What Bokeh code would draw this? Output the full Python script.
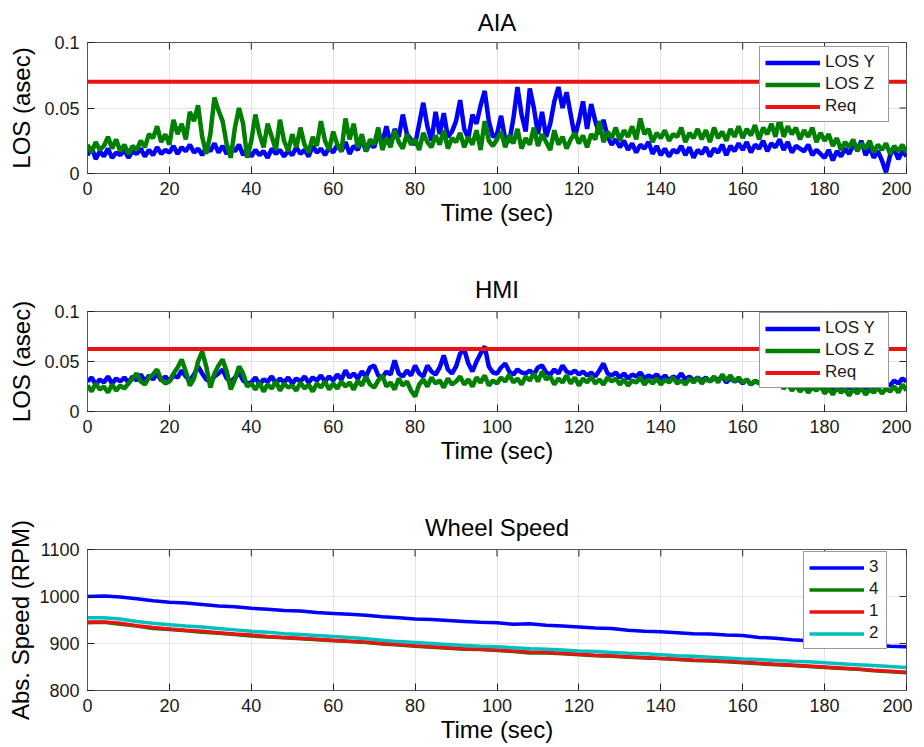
from bokeh.plotting import figure
from bokeh.models import (ColumnDataSource, Range1d, LinearAxis, FixedTicker, Legend, LegendItem,
                          CustomJSTickFormatter, Title)
from bokeh.layouts import column
from bokeh.embed import file_html
from bokeh.resources import INLINE

# ---------------- data ----------------
time_s = list(range(0, 201))          # 1 s sampling, 0..200 s

# AIA line-of-sight jitter (thousandths of an arcsec)
aia_los_y = [14, 20, 11, 17, 13, 19, 12, 16, 14, 18,
             12, 17, 15, 19, 13, 18, 14, 20, 15, 18,
             16, 21, 15, 20, 17, 22, 16, 19, 14, 20,
             17, 23, 16, 21, 15, 20, 17, 22, 14, 19,
             13, 18, 14, 17, 12, 19, 15, 18, 13, 17,
             14, 20, 15, 18, 13, 21, 16, 19, 14, 20,
             16, 22, 17, 24, 15, 21, 18, 26, 17, 23,
             20, 30, 24, 36, 22, 34, 28, 45, 30, 26,
             22, 38, 54, 36, 25, 47, 30, 46, 28, 32,
             40, 56, 34, 27, 45, 38, 52, 63, 40, 28,
             30, 44, 26, 24, 42, 66, 45, 32, 65, 50,
             30, 47, 28, 38, 55, 66, 50, 62, 45, 28,
             40, 55, 34, 53, 40, 30, 41, 28, 22, 26,
             20, 25, 18, 23, 16, 22, 19, 24, 15, 21,
             14, 19, 13, 18, 16, 21, 14, 20, 12, 18,
             15, 20, 13, 19, 16, 22, 14, 21, 17, 23,
             18, 24, 16, 22, 19, 25, 17, 23, 20, 26,
             18, 24, 16, 21, 19, 17, 22, 14, 18, 15,
             12, 18, 10, 17, 13, 19, 15, 22, 18, 25,
             14, 20, 12, 17, 10, 1, 14, 19, 11, 17,
             13]
aia_los_z = [22, 16, 24, 18, 21, 28, 19, 26, 17, 22,
             15, 21, 18, 25, 20, 30, 27, 36, 24, 30,
             22, 41, 30, 38, 26, 47, 40, 52, 28, 15,
             30, 58, 48, 40, 22, 12, 35, 50, 38, 12,
             25, 45, 30, 20, 38, 28, 18, 41, 25, 17,
             30, 20, 35, 22, 16, 28, 21, 40, 25, 18,
             32, 22, 17, 42, 26, 38, 20, 30, 17, 26,
             22, 35, 18, 27, 20, 33, 24, 19, 30, 22,
             26, 18, 31, 24, 20, 29, 22, 33, 19, 27,
             24, 31, 20, 28, 22, 33, 18, 40, 25, 21,
             26, 32, 20, 29, 23, 34, 19, 27, 22, 35,
             21, 30, 24, 18, 33, 22, 28, 19, 26, 31,
             23, 29, 20, 30, 26, 40, 24, 32, 27, 35,
             25, 33, 28, 36, 26, 42, 30, 34, 24, 31,
             27, 33, 25, 30, 28, 35, 24, 31, 27, 34,
             26, 33, 24, 35, 27, 32, 25, 34, 28, 36,
             27, 34, 29, 37, 26, 35, 30, 38, 28, 42,
             28, 36, 30, 35, 26, 33, 28, 35, 24, 31,
             25, 30, 21, 27, 18, 24, 20, 26, 17, 23,
             19, 25, 16, 22, 18, 23, 15, 21, 17, 22,
             16]
aia_req = [70, 70]

# HMI line-of-sight jitter (thousandths of an arcsec)
hmi_los_y = [30, 34, 27, 32, 29, 35, 28, 33, 30, 34,
             29, 35, 31, 37, 30, 36, 32, 38, 31, 35,
             30, 36, 34, 41, 35, 31, 37, 45, 38, 32,
             30, 35, 38, 42, 33, 30, 34, 39, 31, 28,
             29, 34, 27, 32, 30, 35, 28, 33, 29, 34,
             28, 33, 30, 35, 29, 34, 31, 36, 30, 35,
             31, 37, 32, 41, 34, 38, 33, 40, 35, 44,
             46, 36, 34, 40, 37, 51, 38, 35, 41, 36,
             46, 38, 35, 46, 40, 37, 44, 56, 42, 38,
             45, 58, 62, 48, 40, 50, 58, 65, 45, 39,
             38, 44, 48, 40, 37, 42, 39, 38, 41, 37,
             44, 46, 39, 37, 42, 38, 46, 40, 38, 41,
             37, 40, 36, 39, 35, 41, 48, 38, 36, 39,
             34, 38, 33, 37, 35, 39, 33, 36, 34, 37,
             32, 36, 31, 35, 33, 38, 32, 35, 31, 34,
             31, 34, 30, 33, 32, 35, 29, 33, 30, 32,
             28, 32, 27, 30, 29, 31, 26, 30, 28, 31,
             27, 30, 25, 29, 26, 29, 24, 28, 25, 29,
             23, 28, 22, 27, 24, 28, 23, 26, 22, 27,
             23, 28, 24, 29, 25, 28, 26, 31, 28, 33,
             30]
hmi_los_z = [26, 20, 28, 22, 25, 19, 27, 21, 26, 23,
             28, 33, 38, 30, 27, 34, 37, 42, 32, 28,
             30, 38, 44, 52, 40, 26, 33, 50, 60, 45,
             24, 38, 46, 52, 40, 22, 32, 45, 38, 25,
             28, 22, 29, 20, 27, 23, 30, 21, 28, 24,
             26, 21, 29, 23, 27, 20, 28, 24, 30, 22,
             28, 23, 30, 25, 29, 22, 31, 26, 35, 27,
             24, 31, 36, 25, 29, 22, 33, 26, 30, 21,
             15, 27, 32, 25, 34, 28, 31, 24, 33, 27,
             30, 35, 27, 32, 25, 34, 29, 36, 26, 31,
             28, 34, 30, 37, 29, 33, 27, 35, 31, 38,
             30, 40, 32, 35, 27, 33, 29, 36, 28, 34,
             26, 33, 29, 35, 28, 32, 27, 34, 30, 33,
             27, 32, 26, 31, 29, 34, 27, 32, 28, 33,
             27, 32, 29, 34, 28, 31, 27, 33, 29, 34,
             28, 33, 30, 35, 29, 37, 31, 36, 30, 34,
             29, 32, 27, 31, 28, 30, 26, 29, 27, 30,
             23, 28, 21, 26, 20, 25, 19, 24, 21, 26,
             18, 23, 17, 24, 19, 22, 16, 23, 18, 24,
             17, 22, 19, 24, 18, 23, 20, 25, 19, 27,
             21]
hmi_req = [62.5, 62.5]
req_time = [0, 200]

# Wheel speeds (RPM), 4 s sampling
wheel_time = list(range(0, 201, 4))
wheel_3 = [1000, 1001, 999, 995, 991, 988, 986, 983, 980, 978,
           975, 973, 970, 969, 966, 964, 962, 960, 957, 955,
           952, 951, 949, 947, 945, 944, 941, 942, 939, 937,
           935, 933, 932, 928, 926, 925, 923, 921, 920, 918,
           917, 913, 911, 908, 906, 903, 901, 899, 897, 894, 893]
wheel_4 = [944, 945, 941, 937, 932, 930, 927, 924, 922, 919,
           916, 914, 912, 910, 908, 906, 904, 902, 899, 897,
           894, 892, 890, 888, 887, 885, 883, 880, 880, 878,
           876, 874, 873, 871, 869, 868, 866, 864, 863, 861,
           859, 857, 855, 853, 851, 849, 847, 845, 842, 840, 838]
wheel_1 = [946, 946, 943, 938, 934, 931, 928, 926, 923, 920,
           918, 915, 913, 911, 909, 907, 905, 903, 900, 898,
           895, 893, 891, 889, 888, 886, 884, 882, 881, 879,
           877, 875, 874, 872, 870, 868, 867, 865, 864, 862,
           860, 858, 856, 854, 852, 850, 848, 846, 843, 841, 839]
wheel_2 = [955, 955, 952, 947, 943, 940, 937, 935, 932, 929,
           926, 924, 921, 919, 917, 915, 913, 910, 907, 904,
           902, 900, 898, 896, 894, 893, 891, 889, 888, 886,
           884, 883, 881, 879, 878, 876, 874, 873, 871, 869,
           867, 866, 864, 862, 861, 859, 857, 855, 853, 851, 849]

x_ticks = [0, 20, 40, 60, 80, 100, 120, 140, 160, 180, 200]
los_ticks = [0, 0.05, 0.1]
rpm_ticks = [800, 900, 1000, 1100]

# ---------------- style ----------------
FONT = "Liberation Sans"
BLUE = "#0000ff"
GREEN = "#008000"
RED = "#ee1111"
CYAN = "#00bfbf"
AX = "#555555"
FRAME_W = 819
TICK_LEN = 7

fmt = CustomJSTickFormatter(code="return String(Math.round(tick*1000)/1000);")


def make_fig(title, frame_h, top, bottom, ylab, yr, yticks, ylab_standoff, title_standoff):
    p = figure(frame_width=FRAME_W, frame_height=frame_h, output_backend="svg",
               toolbar_location=None,
               x_range=Range1d(0, 200), y_range=Range1d(*yr),
               min_border_left=79, min_border_right=6, min_border_top=top,
               min_border_bottom=bottom, x_axis_location=None, y_axis_location=None)
    p.outline_line_color = AX
    p.outline_line_width = 1
    p.background_fill_color = "white"
    p.border_fill_color = "white"
    for loc, dim in (("below", 0), ("left", 1)):
        ax = LinearAxis(ticker=FixedTicker(ticks=x_ticks if dim == 0 else yticks),
                        formatter=fmt)
        ax.axis_line_color = AX
        ax.major_tick_line_color = "#222222"
        ax.major_tick_in = TICK_LEN
        ax.major_tick_out = 0
        ax.minor_tick_line_color = None
        ax.major_label_text_font = FONT
        ax.major_label_text_font_size = "18px"
        ax.major_label_text_color = "#1a1a1a"
        ax.axis_label_text_font = FONT
        ax.axis_label_text_font_style = "normal"
        ax.axis_label_text_font_size = "24px"
        ax.axis_label_text_color = "black"
        if loc == "below":
            ax.axis_label = "Time (sec)"
            ax.major_label_standoff = 8
            ax.axis_label_standoff = 1
        else:
            ax.axis_label = ylab
            ax.major_label_standoff = 8
            ax.axis_label_standoff = ylab_standoff
        p.add_layout(ax, loc)
    # mirrored inward ticks on the top and right edges of the box
    y0, y1 = yr
    dy = TICK_LEN * (y1 - y0) / frame_h
    dx = TICK_LEN * 200 / FRAME_W
    p.segment(x0=x_ticks, x1=x_ticks, y0=[y1] * len(x_ticks), y1=[y1 - dy] * len(x_ticks),
              line_color="#222222", line_width=1)
    p.segment(x0=[200] * len(yticks), x1=[200 - dx] * len(yticks), y0=yticks, y1=yticks,
              line_color="#222222", line_width=1)
    p.xgrid.ticker = FixedTicker(ticks=x_ticks)
    p.ygrid.ticker = FixedTicker(ticks=yticks)
    p.grid.grid_line_color = "#e3e3e3"
    p.grid.grid_line_width = 1
    t = Title(text=title, align="center", text_font=FONT, text_font_size="24px",
              text_font_style="normal", text_color="black", standoff=title_standoff)
    p.add_layout(t, "above")
    return p


def add_legend(p, items, loc, label_width):
    lg = Legend(items=items, location=loc)
    lg.label_text_font = FONT
    lg.label_text_font_size = "17px"
    lg.label_text_color = "#1a1a1a"
    lg.glyph_width = 55
    lg.glyph_height = 19
    lg.label_height = 19
    lg.label_width = label_width
    lg.spacing = 2
    lg.padding = 5
    lg.margin = 0
    lg.label_standoff = 5
    lg.border_line_color = "#333333"
    lg.border_line_width = 1
    lg.background_fill_color = "white"
    lg.background_fill_alpha = 1.0
    p.add_layout(lg)


def los_panel(title, frame_h, top, bottom, ys, zs, req, legend_loc, title_standoff):
    src = ColumnDataSource(dict(t=time_s, y=[v / 1000 for v in ys], z=[v / 1000 for v in zs]))
    rsrc = ColumnDataSource(dict(t=req_time, r=[v / 1000 for v in req]))
    p = make_fig(title, frame_h, top, bottom, "LOS (asec)", (0, 0.1), los_ticks, 6,
                 title_standoff)
    ry = p.line("t", "y", source=src, color=BLUE, line_width=4.5)
    rz = p.line("t", "z", source=src, color=GREEN, line_width=4.5)
    rr = p.line("t", "r", source=rsrc, color=RED, line_width=4)
    add_legend(p, [LegendItem(label="LOS Y", renderers=[ry]),
                   LegendItem(label="LOS Z", renderers=[rz]),
                   LegendItem(label="Req", renderers=[rr])], legend_loc, 58)
    return p


p1 = los_panel("AIA", 131, 40, 66, aia_los_y, aia_los_z, aia_req, (672, 51), 13)
p2 = los_panel("HMI", 100, 72, 78, hmi_los_y, hmi_los_z, hmi_req, (672, 23), 18)

wsrc = ColumnDataSource(dict(t=wheel_time, w3=wheel_3, w4=wheel_4, w1=wheel_1, w2=wheel_2))
p3 = make_fig("Wheel Speed", 141, 60, 48, "Abs. Speed (RPM)", (800, 1100), rpm_ticks, 2, 18)
r3 = p3.line("t", "w3", source=wsrc, color=BLUE, line_width=3.5)
r4 = p3.line("t", "w4", source=wsrc, color=GREEN, line_width=3.5)
r1 = p3.line("t", "w1", source=wsrc, color=RED, line_width=3.5)
r2 = p3.line("t", "w2", source=wsrc, color=CYAN, line_width=3.5)
add_legend(p3, [LegendItem(label="3", renderers=[r3]),
                LegendItem(label="4", renderers=[r4]),
                LegendItem(label="1", renderers=[r1]),
                LegendItem(label="2", renderers=[r2])], (716, 41), 12)

layout = column(p1, p2, p3, spacing=0, margin=(0, 0, 0, 4))
open("out.html", "w").write(file_html(layout, INLINE))
